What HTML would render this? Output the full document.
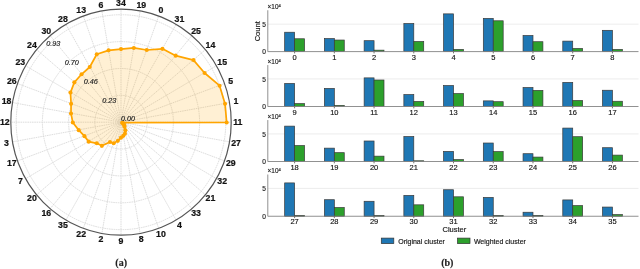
<!DOCTYPE html><html><head><meta charset="utf-8"><style>html,body{margin:0;padding:0;background:#fff;width:640px;height:269px;overflow:hidden}svg{display:block;will-change:transform}text{font-family:"Liberation Sans",sans-serif;stroke:#1a1a1a;stroke-width:0.15px}</style></head><body>
<svg width="640" height="269" viewBox="0 0 640 269">
<ellipse cx="121.0" cy="122.2" rx="26.20" ry="26.87" fill="none" stroke="#d4d4d4" stroke-width="0.8" stroke-dasharray="1.6,0.7"/>
<ellipse cx="121.0" cy="122.2" rx="52.40" ry="53.73" fill="none" stroke="#d4d4d4" stroke-width="0.8" stroke-dasharray="1.6,0.7"/>
<ellipse cx="121.0" cy="122.2" rx="78.60" ry="80.60" fill="none" stroke="#d4d4d4" stroke-width="0.8" stroke-dasharray="1.6,0.7"/>
<ellipse cx="121.0" cy="122.2" rx="104.80" ry="107.46" fill="none" stroke="#d4d4d4" stroke-width="0.8" stroke-dasharray="1.6,0.7"/>
<line x1="121.0" y1="122.2" x2="231.20" y2="122.20" stroke="#d4d4d4" stroke-width="0.8" stroke-dasharray="1.6,0.7"/>
<line x1="121.0" y1="122.2" x2="229.53" y2="102.58" stroke="#d4d4d4" stroke-width="0.8" stroke-dasharray="1.6,0.7"/>
<line x1="121.0" y1="122.2" x2="224.55" y2="83.55" stroke="#d4d4d4" stroke-width="0.8" stroke-dasharray="1.6,0.7"/>
<line x1="121.0" y1="122.2" x2="216.44" y2="65.70" stroke="#d4d4d4" stroke-width="0.8" stroke-dasharray="1.6,0.7"/>
<line x1="121.0" y1="122.2" x2="205.42" y2="49.57" stroke="#d4d4d4" stroke-width="0.8" stroke-dasharray="1.6,0.7"/>
<line x1="121.0" y1="122.2" x2="191.84" y2="35.64" stroke="#d4d4d4" stroke-width="0.8" stroke-dasharray="1.6,0.7"/>
<line x1="121.0" y1="122.2" x2="176.10" y2="24.34" stroke="#d4d4d4" stroke-width="0.8" stroke-dasharray="1.6,0.7"/>
<line x1="121.0" y1="122.2" x2="158.69" y2="16.01" stroke="#d4d4d4" stroke-width="0.8" stroke-dasharray="1.6,0.7"/>
<line x1="121.0" y1="122.2" x2="140.14" y2="10.92" stroke="#d4d4d4" stroke-width="0.8" stroke-dasharray="1.6,0.7"/>
<line x1="121.0" y1="122.2" x2="121.00" y2="9.20" stroke="#d4d4d4" stroke-width="0.8" stroke-dasharray="1.6,0.7"/>
<line x1="121.0" y1="122.2" x2="101.86" y2="10.92" stroke="#d4d4d4" stroke-width="0.8" stroke-dasharray="1.6,0.7"/>
<line x1="121.0" y1="122.2" x2="83.31" y2="16.01" stroke="#d4d4d4" stroke-width="0.8" stroke-dasharray="1.6,0.7"/>
<line x1="121.0" y1="122.2" x2="65.90" y2="24.34" stroke="#d4d4d4" stroke-width="0.8" stroke-dasharray="1.6,0.7"/>
<line x1="121.0" y1="122.2" x2="50.16" y2="35.64" stroke="#d4d4d4" stroke-width="0.8" stroke-dasharray="1.6,0.7"/>
<line x1="121.0" y1="122.2" x2="36.58" y2="49.57" stroke="#d4d4d4" stroke-width="0.8" stroke-dasharray="1.6,0.7"/>
<line x1="121.0" y1="122.2" x2="25.56" y2="65.70" stroke="#d4d4d4" stroke-width="0.8" stroke-dasharray="1.6,0.7"/>
<line x1="121.0" y1="122.2" x2="17.45" y2="83.55" stroke="#d4d4d4" stroke-width="0.8" stroke-dasharray="1.6,0.7"/>
<line x1="121.0" y1="122.2" x2="12.47" y2="102.58" stroke="#d4d4d4" stroke-width="0.8" stroke-dasharray="1.6,0.7"/>
<line x1="121.0" y1="122.2" x2="10.80" y2="122.20" stroke="#d4d4d4" stroke-width="0.8" stroke-dasharray="1.6,0.7"/>
<line x1="121.0" y1="122.2" x2="12.47" y2="141.82" stroke="#d4d4d4" stroke-width="0.8" stroke-dasharray="1.6,0.7"/>
<line x1="121.0" y1="122.2" x2="17.45" y2="160.85" stroke="#d4d4d4" stroke-width="0.8" stroke-dasharray="1.6,0.7"/>
<line x1="121.0" y1="122.2" x2="25.56" y2="178.70" stroke="#d4d4d4" stroke-width="0.8" stroke-dasharray="1.6,0.7"/>
<line x1="121.0" y1="122.2" x2="36.58" y2="194.83" stroke="#d4d4d4" stroke-width="0.8" stroke-dasharray="1.6,0.7"/>
<line x1="121.0" y1="122.2" x2="50.16" y2="208.76" stroke="#d4d4d4" stroke-width="0.8" stroke-dasharray="1.6,0.7"/>
<line x1="121.0" y1="122.2" x2="65.90" y2="220.06" stroke="#d4d4d4" stroke-width="0.8" stroke-dasharray="1.6,0.7"/>
<line x1="121.0" y1="122.2" x2="83.31" y2="228.39" stroke="#d4d4d4" stroke-width="0.8" stroke-dasharray="1.6,0.7"/>
<line x1="121.0" y1="122.2" x2="101.86" y2="233.48" stroke="#d4d4d4" stroke-width="0.8" stroke-dasharray="1.6,0.7"/>
<line x1="121.0" y1="122.2" x2="121.00" y2="235.20" stroke="#d4d4d4" stroke-width="0.8" stroke-dasharray="1.6,0.7"/>
<line x1="121.0" y1="122.2" x2="140.14" y2="233.48" stroke="#d4d4d4" stroke-width="0.8" stroke-dasharray="1.6,0.7"/>
<line x1="121.0" y1="122.2" x2="158.69" y2="228.39" stroke="#d4d4d4" stroke-width="0.8" stroke-dasharray="1.6,0.7"/>
<line x1="121.0" y1="122.2" x2="176.10" y2="220.06" stroke="#d4d4d4" stroke-width="0.8" stroke-dasharray="1.6,0.7"/>
<line x1="121.0" y1="122.2" x2="191.84" y2="208.76" stroke="#d4d4d4" stroke-width="0.8" stroke-dasharray="1.6,0.7"/>
<line x1="121.0" y1="122.2" x2="205.42" y2="194.83" stroke="#d4d4d4" stroke-width="0.8" stroke-dasharray="1.6,0.7"/>
<line x1="121.0" y1="122.2" x2="216.44" y2="178.70" stroke="#d4d4d4" stroke-width="0.8" stroke-dasharray="1.6,0.7"/>
<line x1="121.0" y1="122.2" x2="224.55" y2="160.85" stroke="#d4d4d4" stroke-width="0.8" stroke-dasharray="1.6,0.7"/>
<line x1="121.0" y1="122.2" x2="229.53" y2="141.82" stroke="#d4d4d4" stroke-width="0.8" stroke-dasharray="1.6,0.7"/>
<polygon points="226.68,122.50 225.04,103.69 219.58,85.71 204.60,73.01 193.52,60.11 175.68,55.67 162.47,48.85 146.74,49.98 133.82,47.94 121.00,49.10 108.59,50.33 96.76,54.22 89.76,67.01 81.54,74.28 74.33,82.35 70.46,92.58 71.09,103.87 71.01,113.46 72.80,122.50 78.73,130.14 84.45,136.14 88.67,141.64 96.80,143.32 101.90,145.85 110.01,142.02 113.65,143.21 117.84,140.86 121.00,137.64 123.30,135.85 124.96,133.65 125.41,130.33 124.54,126.83 124.38,125.41 123.86,124.20 123.07,123.27 122.09,122.70" fill="#FFA500" fill-opacity="0.17" stroke="none"/>
<ellipse cx="121.0" cy="122.2" rx="110.2" ry="113.0" fill="none" stroke="#555" stroke-width="1.2"/>
<polygon points="226.68,122.50 225.04,103.69 219.58,85.71 204.60,73.01 193.52,60.11 175.68,55.67 162.47,48.85 146.74,49.98 133.82,47.94 121.00,49.10 108.59,50.33 96.76,54.22 89.76,67.01 81.54,74.28 74.33,82.35 70.46,92.58 71.09,103.87 71.01,113.46 72.80,122.50 78.73,130.14 84.45,136.14 88.67,141.64 96.80,143.32 101.90,145.85 110.01,142.02 113.65,143.21 117.84,140.86 121.00,137.64 123.30,135.85 124.96,133.65 125.41,130.33 124.54,126.83 124.38,125.41 123.86,124.20 123.07,123.27 122.09,122.70" fill="none" stroke="#FFA500" stroke-width="1.7" stroke-linejoin="round"/>
<circle cx="226.68" cy="122.50" r="2.05" fill="#FFA500"/>
<circle cx="225.04" cy="103.69" r="2.05" fill="#FFA500"/>
<circle cx="219.58" cy="85.71" r="2.05" fill="#FFA500"/>
<circle cx="204.60" cy="73.01" r="2.05" fill="#FFA500"/>
<circle cx="193.52" cy="60.11" r="2.05" fill="#FFA500"/>
<circle cx="175.68" cy="55.67" r="2.05" fill="#FFA500"/>
<circle cx="162.47" cy="48.85" r="2.05" fill="#FFA500"/>
<circle cx="146.74" cy="49.98" r="2.05" fill="#FFA500"/>
<circle cx="133.82" cy="47.94" r="2.05" fill="#FFA500"/>
<circle cx="121.00" cy="49.10" r="2.05" fill="#FFA500"/>
<circle cx="108.59" cy="50.33" r="2.05" fill="#FFA500"/>
<circle cx="96.76" cy="54.22" r="2.05" fill="#FFA500"/>
<circle cx="89.76" cy="67.01" r="2.05" fill="#FFA500"/>
<circle cx="81.54" cy="74.28" r="2.05" fill="#FFA500"/>
<circle cx="74.33" cy="82.35" r="2.05" fill="#FFA500"/>
<circle cx="70.46" cy="92.58" r="2.05" fill="#FFA500"/>
<circle cx="71.09" cy="103.87" r="2.05" fill="#FFA500"/>
<circle cx="71.01" cy="113.46" r="2.05" fill="#FFA500"/>
<circle cx="72.80" cy="122.50" r="2.05" fill="#FFA500"/>
<circle cx="78.73" cy="130.14" r="2.05" fill="#FFA500"/>
<circle cx="84.45" cy="136.14" r="2.05" fill="#FFA500"/>
<circle cx="88.67" cy="141.64" r="2.05" fill="#FFA500"/>
<circle cx="96.80" cy="143.32" r="2.05" fill="#FFA500"/>
<circle cx="101.90" cy="145.85" r="2.05" fill="#FFA500"/>
<circle cx="110.01" cy="142.02" r="2.05" fill="#FFA500"/>
<circle cx="113.65" cy="143.21" r="2.05" fill="#FFA500"/>
<circle cx="117.84" cy="140.86" r="2.05" fill="#FFA500"/>
<circle cx="121.00" cy="137.64" r="2.05" fill="#FFA500"/>
<circle cx="123.30" cy="135.85" r="2.05" fill="#FFA500"/>
<circle cx="124.96" cy="133.65" r="2.05" fill="#FFA500"/>
<circle cx="125.41" cy="130.33" r="2.05" fill="#FFA500"/>
<circle cx="124.54" cy="126.83" r="2.05" fill="#FFA500"/>
<circle cx="124.38" cy="125.41" r="2.05" fill="#FFA500"/>
<circle cx="123.86" cy="124.20" r="2.05" fill="#FFA500"/>
<circle cx="123.07" cy="123.27" r="2.05" fill="#FFA500"/>
<circle cx="122.09" cy="122.70" r="2.05" fill="#FFA500"/>
<text transform="translate(128,120.9) scale(1.1,1)" font-size="6.6" font-style="italic" fill="#222" text-anchor="middle">0.00</text>
<text transform="translate(109.2,102.5) scale(1.1,1)" font-size="6.6" font-style="italic" fill="#222" text-anchor="middle">0.23</text>
<text transform="translate(90.7,83.55000000000001) scale(1.1,1)" font-size="6.6" font-style="italic" fill="#222" text-anchor="middle">0.46</text>
<text transform="translate(71.85,64.95) scale(1.1,1)" font-size="6.6" font-style="italic" fill="#222" text-anchor="middle">0.70</text>
<text transform="translate(53.35,45.9) scale(1.1,1)" font-size="6.6" font-style="italic" fill="#222" text-anchor="middle">0.93</text>
<text transform="translate(237.81,124.85) scale(1.07,1)" font-size="8.2" font-weight="bold" fill="#111" style="stroke-width:0.22px" text-anchor="middle">11</text>
<text transform="translate(236.04,104.17) scale(1.07,1)" font-size="8.2" font-weight="bold" fill="#111" style="stroke-width:0.22px" text-anchor="middle">1</text>
<text transform="translate(230.77,84.11) scale(1.07,1)" font-size="8.2" font-weight="bold" fill="#111" style="stroke-width:0.22px" text-anchor="middle">5</text>
<text transform="translate(222.16,65.30) scale(1.07,1)" font-size="8.2" font-weight="bold" fill="#111" style="stroke-width:0.22px" text-anchor="middle">15</text>
<text transform="translate(210.48,48.29) scale(1.07,1)" font-size="8.2" font-weight="bold" fill="#111" style="stroke-width:0.22px" text-anchor="middle">14</text>
<text transform="translate(196.09,33.61) scale(1.07,1)" font-size="8.2" font-weight="bold" fill="#111" style="stroke-width:0.22px" text-anchor="middle">25</text>
<text transform="translate(179.41,21.70) scale(1.07,1)" font-size="8.2" font-weight="bold" fill="#111" style="stroke-width:0.22px" text-anchor="middle">31</text>
<text transform="translate(160.95,12.93) scale(1.07,1)" font-size="8.2" font-weight="bold" fill="#111" style="stroke-width:0.22px" text-anchor="middle">0</text>
<text transform="translate(141.28,7.56) scale(1.07,1)" font-size="8.2" font-weight="bold" fill="#111" style="stroke-width:0.22px" text-anchor="middle">19</text>
<text transform="translate(121.00,5.75) scale(1.07,1)" font-size="8.2" font-weight="bold" fill="#111" style="stroke-width:0.22px" text-anchor="middle">34</text>
<text transform="translate(100.82,7.56) scale(1.07,1)" font-size="8.2" font-weight="bold" fill="#111" style="stroke-width:0.22px" text-anchor="middle">6</text>
<text transform="translate(81.25,12.93) scale(1.07,1)" font-size="8.2" font-weight="bold" fill="#111" style="stroke-width:0.22px" text-anchor="middle">13</text>
<text transform="translate(62.89,21.70) scale(1.07,1)" font-size="8.2" font-weight="bold" fill="#111" style="stroke-width:0.22px" text-anchor="middle">28</text>
<text transform="translate(46.30,33.61) scale(1.07,1)" font-size="8.2" font-weight="bold" fill="#111" style="stroke-width:0.22px" text-anchor="middle">30</text>
<text transform="translate(31.98,48.29) scale(1.07,1)" font-size="8.2" font-weight="bold" fill="#111" style="stroke-width:0.22px" text-anchor="middle">24</text>
<text transform="translate(20.36,65.30) scale(1.07,1)" font-size="8.2" font-weight="bold" fill="#111" style="stroke-width:0.22px" text-anchor="middle">23</text>
<text transform="translate(11.80,84.11) scale(1.07,1)" font-size="8.2" font-weight="bold" fill="#111" style="stroke-width:0.22px" text-anchor="middle">26</text>
<text transform="translate(6.55,104.17) scale(1.07,1)" font-size="8.2" font-weight="bold" fill="#111" style="stroke-width:0.22px" text-anchor="middle">18</text>
<text transform="translate(4.79,124.85) scale(1.07,1)" font-size="8.2" font-weight="bold" fill="#111" style="stroke-width:0.22px" text-anchor="middle">12</text>
<text transform="translate(6.55,145.53) scale(1.07,1)" font-size="8.2" font-weight="bold" fill="#111" style="stroke-width:0.22px" text-anchor="middle">3</text>
<text transform="translate(11.80,165.59) scale(1.07,1)" font-size="8.2" font-weight="bold" fill="#111" style="stroke-width:0.22px" text-anchor="middle">17</text>
<text transform="translate(20.36,184.40) scale(1.07,1)" font-size="8.2" font-weight="bold" fill="#111" style="stroke-width:0.22px" text-anchor="middle">7</text>
<text transform="translate(31.98,201.41) scale(1.07,1)" font-size="8.2" font-weight="bold" fill="#111" style="stroke-width:0.22px" text-anchor="middle">20</text>
<text transform="translate(46.30,216.09) scale(1.07,1)" font-size="8.2" font-weight="bold" fill="#111" style="stroke-width:0.22px" text-anchor="middle">16</text>
<text transform="translate(62.89,228.00) scale(1.07,1)" font-size="8.2" font-weight="bold" fill="#111" style="stroke-width:0.22px" text-anchor="middle">35</text>
<text transform="translate(81.25,236.77) scale(1.07,1)" font-size="8.2" font-weight="bold" fill="#111" style="stroke-width:0.22px" text-anchor="middle">22</text>
<text transform="translate(100.82,242.14) scale(1.07,1)" font-size="8.2" font-weight="bold" fill="#111" style="stroke-width:0.22px" text-anchor="middle">2</text>
<text transform="translate(121.00,243.95) scale(1.07,1)" font-size="8.2" font-weight="bold" fill="#111" style="stroke-width:0.22px" text-anchor="middle">9</text>
<text transform="translate(141.28,242.14) scale(1.07,1)" font-size="8.2" font-weight="bold" fill="#111" style="stroke-width:0.22px" text-anchor="middle">8</text>
<text transform="translate(160.95,236.77) scale(1.07,1)" font-size="8.2" font-weight="bold" fill="#111" style="stroke-width:0.22px" text-anchor="middle">10</text>
<text transform="translate(179.41,228.00) scale(1.07,1)" font-size="8.2" font-weight="bold" fill="#111" style="stroke-width:0.22px" text-anchor="middle">4</text>
<text transform="translate(196.09,216.09) scale(1.07,1)" font-size="8.2" font-weight="bold" fill="#111" style="stroke-width:0.22px" text-anchor="middle">33</text>
<text transform="translate(210.48,201.41) scale(1.07,1)" font-size="8.2" font-weight="bold" fill="#111" style="stroke-width:0.22px" text-anchor="middle">21</text>
<text transform="translate(222.16,184.40) scale(1.07,1)" font-size="8.2" font-weight="bold" fill="#111" style="stroke-width:0.22px" text-anchor="middle">32</text>
<text transform="translate(230.77,165.59) scale(1.07,1)" font-size="8.2" font-weight="bold" fill="#111" style="stroke-width:0.22px" text-anchor="middle">29</text>
<text transform="translate(236.04,145.53) scale(1.07,1)" font-size="8.2" font-weight="bold" fill="#111" style="stroke-width:0.22px" text-anchor="middle">27</text>
<text x="121.2" y="266.2" font-size="10" font-weight="bold" fill="#222" text-anchor="middle" style="font-family:'Liberation Serif',serif">(a)</text>
<line x1="267.8" y1="24.15" x2="638.5" y2="24.15" stroke="#e4e4e4" stroke-width="0.7"/>
<rect x="284.67" y="32.23" width="9.93" height="19.37" fill="#1f77b4" stroke="#3a3a3a" stroke-width="0.7"/>
<rect x="294.60" y="38.77" width="9.93" height="12.83" fill="#2ca02c" stroke="#3a3a3a" stroke-width="0.7"/>
<line x1="294.60" y1="51.60" x2="294.60" y2="53.40" stroke="#333" stroke-width="0.7"/>
<text x="294.60" y="59.80" font-size="7.5" fill="#111" text-anchor="middle">0</text>
<rect x="324.40" y="38.56" width="9.93" height="13.04" fill="#1f77b4" stroke="#3a3a3a" stroke-width="0.7"/>
<rect x="334.33" y="40.03" width="9.93" height="11.57" fill="#2ca02c" stroke="#3a3a3a" stroke-width="0.7"/>
<line x1="334.33" y1="51.60" x2="334.33" y2="53.40" stroke="#333" stroke-width="0.7"/>
<text x="334.33" y="59.80" font-size="7.5" fill="#111" text-anchor="middle">1</text>
<rect x="364.13" y="40.68" width="9.93" height="10.92" fill="#1f77b4" stroke="#3a3a3a" stroke-width="0.7"/>
<rect x="374.06" y="50.16" width="9.93" height="1.43" fill="#2ca02c" stroke="#3a3a3a" stroke-width="0.7"/>
<line x1="374.06" y1="51.60" x2="374.06" y2="53.40" stroke="#333" stroke-width="0.7"/>
<text x="374.06" y="59.80" font-size="7.5" fill="#111" text-anchor="middle">2</text>
<rect x="403.86" y="23.51" width="9.93" height="28.09" fill="#1f77b4" stroke="#3a3a3a" stroke-width="0.7"/>
<rect x="413.79" y="41.50" width="9.93" height="10.10" fill="#2ca02c" stroke="#3a3a3a" stroke-width="0.7"/>
<line x1="413.79" y1="51.60" x2="413.79" y2="53.40" stroke="#333" stroke-width="0.7"/>
<text x="413.79" y="59.80" font-size="7.5" fill="#111" text-anchor="middle">3</text>
<rect x="443.59" y="13.87" width="9.93" height="37.73" fill="#1f77b4" stroke="#3a3a3a" stroke-width="0.7"/>
<rect x="453.52" y="49.40" width="9.93" height="2.20" fill="#2ca02c" stroke="#3a3a3a" stroke-width="0.7"/>
<line x1="453.52" y1="51.60" x2="453.52" y2="53.40" stroke="#333" stroke-width="0.7"/>
<text x="453.52" y="59.80" font-size="7.5" fill="#111" text-anchor="middle">4</text>
<rect x="483.32" y="18.39" width="9.93" height="33.21" fill="#1f77b4" stroke="#3a3a3a" stroke-width="0.7"/>
<rect x="493.25" y="20.79" width="9.93" height="30.81" fill="#2ca02c" stroke="#3a3a3a" stroke-width="0.7"/>
<line x1="493.25" y1="51.60" x2="493.25" y2="53.40" stroke="#333" stroke-width="0.7"/>
<text x="493.25" y="59.80" font-size="7.5" fill="#111" text-anchor="middle">5</text>
<rect x="523.05" y="35.50" width="9.93" height="16.10" fill="#1f77b4" stroke="#3a3a3a" stroke-width="0.7"/>
<rect x="532.98" y="41.72" width="9.93" height="9.88" fill="#2ca02c" stroke="#3a3a3a" stroke-width="0.7"/>
<line x1="532.98" y1="51.60" x2="532.98" y2="53.40" stroke="#333" stroke-width="0.7"/>
<text x="532.98" y="59.80" font-size="7.5" fill="#111" text-anchor="middle">6</text>
<rect x="562.78" y="41.12" width="9.93" height="10.48" fill="#1f77b4" stroke="#3a3a3a" stroke-width="0.7"/>
<rect x="572.71" y="48.48" width="9.93" height="3.12" fill="#2ca02c" stroke="#3a3a3a" stroke-width="0.7"/>
<line x1="572.71" y1="51.60" x2="572.71" y2="53.40" stroke="#333" stroke-width="0.7"/>
<text x="572.71" y="59.80" font-size="7.5" fill="#111" text-anchor="middle">7</text>
<rect x="602.51" y="30.33" width="9.93" height="21.27" fill="#1f77b4" stroke="#3a3a3a" stroke-width="0.7"/>
<rect x="612.44" y="49.40" width="9.93" height="2.20" fill="#2ca02c" stroke="#3a3a3a" stroke-width="0.7"/>
<line x1="612.44" y1="51.60" x2="612.44" y2="53.40" stroke="#333" stroke-width="0.7"/>
<text x="612.44" y="59.80" font-size="7.5" fill="#111" text-anchor="middle">8</text>
<line x1="267.8" y1="10.25" x2="267.8" y2="51.60" stroke="#858585" stroke-width="0.9"/>
<line x1="267.8" y1="51.60" x2="638.5" y2="51.60" stroke="#858585" stroke-width="0.9"/>
<text x="265.8" y="27.15" font-size="6.6" fill="#222" text-anchor="end">5</text>
<text x="265.8" y="54.40" font-size="6.6" fill="#222" text-anchor="end">0</text>
<text x="267.6" y="9.15" font-size="6.4" fill="#222">×10<tspan font-size="4.2" dy="-2.3">4</tspan></text>
<line x1="267.8" y1="78.95" x2="638.5" y2="78.95" stroke="#e4e4e4" stroke-width="0.7"/>
<rect x="284.67" y="83.44" width="9.93" height="23.06" fill="#1f77b4" stroke="#3a3a3a" stroke-width="0.7"/>
<rect x="294.60" y="103.60" width="9.93" height="2.90" fill="#2ca02c" stroke="#3a3a3a" stroke-width="0.7"/>
<line x1="294.60" y1="106.50" x2="294.60" y2="108.30" stroke="#333" stroke-width="0.7"/>
<text x="294.60" y="114.70" font-size="7.5" fill="#111" text-anchor="middle">9</text>
<rect x="324.40" y="88.40" width="9.93" height="18.10" fill="#1f77b4" stroke="#3a3a3a" stroke-width="0.7"/>
<rect x="334.33" y="105.40" width="9.93" height="1.10" fill="#2ca02c" stroke="#3a3a3a" stroke-width="0.7"/>
<line x1="334.33" y1="106.50" x2="334.33" y2="108.30" stroke="#333" stroke-width="0.7"/>
<text x="334.33" y="114.70" font-size="7.5" fill="#111" text-anchor="middle">10</text>
<rect x="364.13" y="77.88" width="9.93" height="28.62" fill="#1f77b4" stroke="#3a3a3a" stroke-width="0.7"/>
<rect x="374.06" y="80.00" width="9.93" height="26.50" fill="#2ca02c" stroke="#3a3a3a" stroke-width="0.7"/>
<line x1="374.06" y1="106.50" x2="374.06" y2="108.30" stroke="#333" stroke-width="0.7"/>
<text x="374.06" y="114.70" font-size="7.5" fill="#111" text-anchor="middle">11</text>
<rect x="403.86" y="94.56" width="9.93" height="11.94" fill="#1f77b4" stroke="#3a3a3a" stroke-width="0.7"/>
<rect x="413.79" y="101.48" width="9.93" height="5.02" fill="#2ca02c" stroke="#3a3a3a" stroke-width="0.7"/>
<line x1="413.79" y1="106.50" x2="413.79" y2="108.30" stroke="#333" stroke-width="0.7"/>
<text x="413.79" y="114.70" font-size="7.5" fill="#111" text-anchor="middle">12</text>
<rect x="443.59" y="85.51" width="9.93" height="20.99" fill="#1f77b4" stroke="#3a3a3a" stroke-width="0.7"/>
<rect x="453.52" y="93.57" width="9.93" height="12.93" fill="#2ca02c" stroke="#3a3a3a" stroke-width="0.7"/>
<line x1="453.52" y1="106.50" x2="453.52" y2="108.30" stroke="#333" stroke-width="0.7"/>
<text x="453.52" y="114.70" font-size="7.5" fill="#111" text-anchor="middle">13</text>
<rect x="483.32" y="100.88" width="9.93" height="5.62" fill="#1f77b4" stroke="#3a3a3a" stroke-width="0.7"/>
<rect x="493.25" y="101.69" width="9.93" height="4.80" fill="#2ca02c" stroke="#3a3a3a" stroke-width="0.7"/>
<line x1="493.25" y1="106.50" x2="493.25" y2="108.30" stroke="#333" stroke-width="0.7"/>
<text x="493.25" y="114.70" font-size="7.5" fill="#111" text-anchor="middle">14</text>
<rect x="523.05" y="87.53" width="9.93" height="18.98" fill="#1f77b4" stroke="#3a3a3a" stroke-width="0.7"/>
<rect x="532.98" y="90.41" width="9.93" height="16.09" fill="#2ca02c" stroke="#3a3a3a" stroke-width="0.7"/>
<line x1="532.98" y1="106.50" x2="532.98" y2="108.30" stroke="#333" stroke-width="0.7"/>
<text x="532.98" y="114.70" font-size="7.5" fill="#111" text-anchor="middle">15</text>
<rect x="562.78" y="82.40" width="9.93" height="24.10" fill="#1f77b4" stroke="#3a3a3a" stroke-width="0.7"/>
<rect x="572.71" y="100.50" width="9.93" height="6.00" fill="#2ca02c" stroke="#3a3a3a" stroke-width="0.7"/>
<line x1="572.71" y1="106.50" x2="572.71" y2="108.30" stroke="#333" stroke-width="0.7"/>
<text x="572.71" y="114.70" font-size="7.5" fill="#111" text-anchor="middle">16</text>
<rect x="602.51" y="90.25" width="9.93" height="16.25" fill="#1f77b4" stroke="#3a3a3a" stroke-width="0.7"/>
<rect x="612.44" y="101.26" width="9.93" height="5.24" fill="#2ca02c" stroke="#3a3a3a" stroke-width="0.7"/>
<line x1="612.44" y1="106.50" x2="612.44" y2="108.30" stroke="#333" stroke-width="0.7"/>
<text x="612.44" y="114.70" font-size="7.5" fill="#111" text-anchor="middle">17</text>
<line x1="267.8" y1="65.05" x2="267.8" y2="106.50" stroke="#858585" stroke-width="0.9"/>
<line x1="267.8" y1="106.50" x2="638.5" y2="106.50" stroke="#858585" stroke-width="0.9"/>
<text x="265.8" y="81.95" font-size="6.6" fill="#222" text-anchor="end">5</text>
<text x="265.8" y="109.30" font-size="6.6" fill="#222" text-anchor="end">0</text>
<text x="267.6" y="63.95" font-size="6.4" fill="#222">×10<tspan font-size="4.2" dy="-2.3">4</tspan></text>
<line x1="267.8" y1="133.95" x2="638.5" y2="133.95" stroke="#e4e4e4" stroke-width="0.7"/>
<rect x="284.67" y="126.12" width="9.93" height="35.38" fill="#1f77b4" stroke="#3a3a3a" stroke-width="0.7"/>
<rect x="294.60" y="145.52" width="9.93" height="15.98" fill="#2ca02c" stroke="#3a3a3a" stroke-width="0.7"/>
<line x1="294.60" y1="161.50" x2="294.60" y2="163.30" stroke="#333" stroke-width="0.7"/>
<text x="294.60" y="169.70" font-size="7.5" fill="#111" text-anchor="middle">18</text>
<rect x="324.40" y="148.14" width="9.93" height="13.36" fill="#1f77b4" stroke="#3a3a3a" stroke-width="0.7"/>
<rect x="334.33" y="152.66" width="9.93" height="8.84" fill="#2ca02c" stroke="#3a3a3a" stroke-width="0.7"/>
<line x1="334.33" y1="161.50" x2="334.33" y2="163.30" stroke="#333" stroke-width="0.7"/>
<text x="334.33" y="169.70" font-size="7.5" fill="#111" text-anchor="middle">19</text>
<rect x="364.13" y="141.00" width="9.93" height="20.50" fill="#1f77b4" stroke="#3a3a3a" stroke-width="0.7"/>
<rect x="374.06" y="156.15" width="9.93" height="5.35" fill="#2ca02c" stroke="#3a3a3a" stroke-width="0.7"/>
<line x1="374.06" y1="161.50" x2="374.06" y2="163.30" stroke="#333" stroke-width="0.7"/>
<text x="374.06" y="169.70" font-size="7.5" fill="#111" text-anchor="middle">20</text>
<rect x="403.86" y="136.53" width="9.93" height="24.97" fill="#1f77b4" stroke="#3a3a3a" stroke-width="0.7"/>
<rect x="413.79" y="160.78" width="9.93" height="0.72" fill="#2ca02c" stroke="#3a3a3a" stroke-width="0.7"/>
<line x1="413.79" y1="161.50" x2="413.79" y2="163.30" stroke="#333" stroke-width="0.7"/>
<text x="413.79" y="169.70" font-size="7.5" fill="#111" text-anchor="middle">21</text>
<rect x="443.59" y="151.41" width="9.93" height="10.09" fill="#1f77b4" stroke="#3a3a3a" stroke-width="0.7"/>
<rect x="453.52" y="159.58" width="9.93" height="1.92" fill="#2ca02c" stroke="#3a3a3a" stroke-width="0.7"/>
<line x1="453.52" y1="161.50" x2="453.52" y2="163.30" stroke="#333" stroke-width="0.7"/>
<text x="453.52" y="169.70" font-size="7.5" fill="#111" text-anchor="middle">22</text>
<rect x="483.32" y="143.02" width="9.93" height="18.48" fill="#1f77b4" stroke="#3a3a3a" stroke-width="0.7"/>
<rect x="493.25" y="151.63" width="9.93" height="9.87" fill="#2ca02c" stroke="#3a3a3a" stroke-width="0.7"/>
<line x1="493.25" y1="161.50" x2="493.25" y2="163.30" stroke="#333" stroke-width="0.7"/>
<text x="493.25" y="169.70" font-size="7.5" fill="#111" text-anchor="middle">23</text>
<rect x="523.05" y="153.70" width="9.93" height="7.80" fill="#1f77b4" stroke="#3a3a3a" stroke-width="0.7"/>
<rect x="532.98" y="157.08" width="9.93" height="4.42" fill="#2ca02c" stroke="#3a3a3a" stroke-width="0.7"/>
<line x1="532.98" y1="161.50" x2="532.98" y2="163.30" stroke="#333" stroke-width="0.7"/>
<text x="532.98" y="169.70" font-size="7.5" fill="#111" text-anchor="middle">24</text>
<rect x="562.78" y="128.08" width="9.93" height="33.42" fill="#1f77b4" stroke="#3a3a3a" stroke-width="0.7"/>
<rect x="572.71" y="136.69" width="9.93" height="24.81" fill="#2ca02c" stroke="#3a3a3a" stroke-width="0.7"/>
<line x1="572.71" y1="161.50" x2="572.71" y2="163.30" stroke="#333" stroke-width="0.7"/>
<text x="572.71" y="169.70" font-size="7.5" fill="#111" text-anchor="middle">25</text>
<rect x="602.51" y="147.70" width="9.93" height="13.80" fill="#1f77b4" stroke="#3a3a3a" stroke-width="0.7"/>
<rect x="612.44" y="155.11" width="9.93" height="6.39" fill="#2ca02c" stroke="#3a3a3a" stroke-width="0.7"/>
<line x1="612.44" y1="161.50" x2="612.44" y2="163.30" stroke="#333" stroke-width="0.7"/>
<text x="612.44" y="169.70" font-size="7.5" fill="#111" text-anchor="middle">26</text>
<line x1="267.8" y1="120.05" x2="267.8" y2="161.50" stroke="#858585" stroke-width="0.9"/>
<line x1="267.8" y1="161.50" x2="638.5" y2="161.50" stroke="#858585" stroke-width="0.9"/>
<text x="265.8" y="136.95" font-size="6.6" fill="#222" text-anchor="end">5</text>
<text x="265.8" y="164.30" font-size="6.6" fill="#222" text-anchor="end">0</text>
<text x="267.6" y="118.95" font-size="6.4" fill="#222">×10<tspan font-size="4.2" dy="-2.3">4</tspan></text>
<line x1="267.8" y1="188.40" x2="638.5" y2="188.40" stroke="#e4e4e4" stroke-width="0.7"/>
<rect x="284.67" y="182.91" width="9.93" height="33.34" fill="#1f77b4" stroke="#3a3a3a" stroke-width="0.7"/>
<rect x="294.60" y="215.61" width="9.93" height="0.64" fill="#2ca02c" stroke="#3a3a3a" stroke-width="0.7"/>
<line x1="294.60" y1="216.25" x2="294.60" y2="218.05" stroke="#333" stroke-width="0.7"/>
<text x="294.60" y="224.45" font-size="7.5" fill="#111" text-anchor="middle">27</text>
<rect x="324.40" y="199.70" width="9.93" height="16.55" fill="#1f77b4" stroke="#3a3a3a" stroke-width="0.7"/>
<rect x="334.33" y="207.49" width="9.93" height="8.76" fill="#2ca02c" stroke="#3a3a3a" stroke-width="0.7"/>
<line x1="334.33" y1="216.25" x2="334.33" y2="218.05" stroke="#333" stroke-width="0.7"/>
<text x="334.33" y="224.45" font-size="7.5" fill="#111" text-anchor="middle">28</text>
<rect x="364.13" y="201.28" width="9.93" height="14.97" fill="#1f77b4" stroke="#3a3a3a" stroke-width="0.7"/>
<rect x="374.06" y="215.61" width="9.93" height="0.64" fill="#2ca02c" stroke="#3a3a3a" stroke-width="0.7"/>
<line x1="374.06" y1="216.25" x2="374.06" y2="218.05" stroke="#333" stroke-width="0.7"/>
<text x="374.06" y="224.45" font-size="7.5" fill="#111" text-anchor="middle">29</text>
<rect x="403.86" y="195.39" width="9.93" height="20.86" fill="#1f77b4" stroke="#3a3a3a" stroke-width="0.7"/>
<rect x="413.79" y="204.82" width="9.93" height="11.43" fill="#2ca02c" stroke="#3a3a3a" stroke-width="0.7"/>
<line x1="413.79" y1="216.25" x2="413.79" y2="218.05" stroke="#333" stroke-width="0.7"/>
<text x="413.79" y="224.45" font-size="7.5" fill="#111" text-anchor="middle">30</text>
<rect x="443.59" y="189.73" width="9.93" height="26.52" fill="#1f77b4" stroke="#3a3a3a" stroke-width="0.7"/>
<rect x="453.52" y="196.81" width="9.93" height="19.44" fill="#2ca02c" stroke="#3a3a3a" stroke-width="0.7"/>
<line x1="453.52" y1="216.25" x2="453.52" y2="218.05" stroke="#333" stroke-width="0.7"/>
<text x="453.52" y="224.45" font-size="7.5" fill="#111" text-anchor="middle">31</text>
<rect x="483.32" y="197.41" width="9.93" height="18.84" fill="#1f77b4" stroke="#3a3a3a" stroke-width="0.7"/>
<rect x="493.25" y="215.61" width="9.93" height="0.64" fill="#2ca02c" stroke="#3a3a3a" stroke-width="0.7"/>
<line x1="493.25" y1="216.25" x2="493.25" y2="218.05" stroke="#333" stroke-width="0.7"/>
<text x="493.25" y="224.45" font-size="7.5" fill="#111" text-anchor="middle">32</text>
<rect x="523.05" y="212.24" width="9.93" height="4.01" fill="#1f77b4" stroke="#3a3a3a" stroke-width="0.7"/>
<rect x="532.98" y="215.50" width="9.93" height="0.74" fill="#2ca02c" stroke="#3a3a3a" stroke-width="0.7"/>
<line x1="532.98" y1="216.25" x2="532.98" y2="218.05" stroke="#333" stroke-width="0.7"/>
<text x="532.98" y="224.45" font-size="7.5" fill="#111" text-anchor="middle">33</text>
<rect x="562.78" y="199.92" width="9.93" height="16.33" fill="#1f77b4" stroke="#3a3a3a" stroke-width="0.7"/>
<rect x="572.71" y="205.59" width="9.93" height="10.66" fill="#2ca02c" stroke="#3a3a3a" stroke-width="0.7"/>
<line x1="572.71" y1="216.25" x2="572.71" y2="218.05" stroke="#333" stroke-width="0.7"/>
<text x="572.71" y="224.45" font-size="7.5" fill="#111" text-anchor="middle">34</text>
<rect x="602.51" y="207.06" width="9.93" height="9.19" fill="#1f77b4" stroke="#3a3a3a" stroke-width="0.7"/>
<rect x="612.44" y="214.58" width="9.93" height="1.67" fill="#2ca02c" stroke="#3a3a3a" stroke-width="0.7"/>
<line x1="612.44" y1="216.25" x2="612.44" y2="218.05" stroke="#333" stroke-width="0.7"/>
<text x="612.44" y="224.45" font-size="7.5" fill="#111" text-anchor="middle">35</text>
<line x1="267.8" y1="174.50" x2="267.8" y2="216.25" stroke="#858585" stroke-width="0.9"/>
<line x1="267.8" y1="216.25" x2="638.5" y2="216.25" stroke="#858585" stroke-width="0.9"/>
<text x="265.8" y="191.40" font-size="6.6" fill="#222" text-anchor="end">5</text>
<text x="265.8" y="219.05" font-size="6.6" fill="#222" text-anchor="end">0</text>
<text x="267.6" y="173.40" font-size="6.4" fill="#222">×10<tspan font-size="4.2" dy="-2.3">4</tspan></text>
<text x="0" y="0" font-size="7.5" fill="#111" text-anchor="middle" transform="translate(259.7,31.3) rotate(-90)">Count</text>
<text x="454.4" y="231.8" font-size="7.5" fill="#111" text-anchor="middle">Cluster</text>
<rect x="381.3" y="238.1" width="12.5" height="5.5" fill="#1f77b4" stroke="#333" stroke-width="0.7"/>
<text x="398.2" y="243.8" font-size="7.0" fill="#111">Original cluster</text>
<rect x="457.5" y="238.1" width="12.5" height="5.5" fill="#2ca02c" stroke="#333" stroke-width="0.7"/>
<text x="473.9" y="243.8" font-size="7.0" fill="#111">Weighted cluster</text>
<text x="447.3" y="266" font-size="10" font-weight="bold" fill="#222" text-anchor="middle" style="font-family:'Liberation Serif',serif">(b)</text>
</svg></body></html>
